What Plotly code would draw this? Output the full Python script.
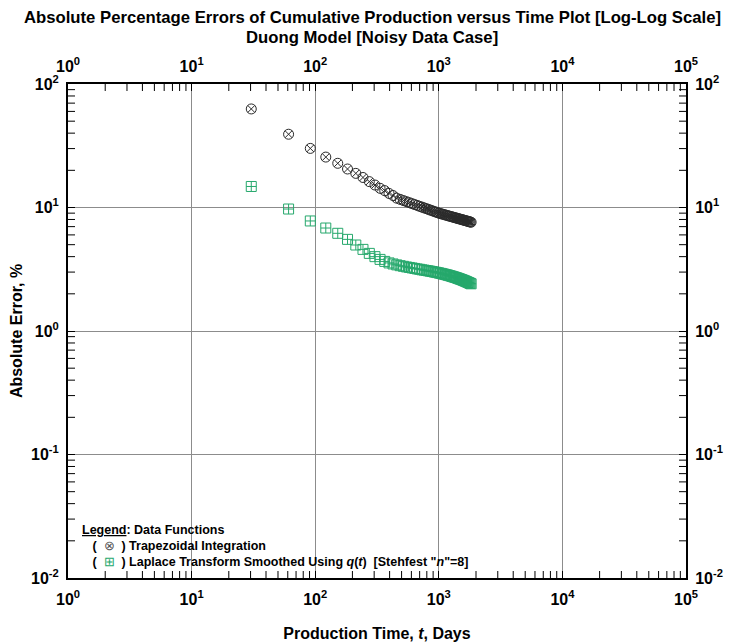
import plotly.graph_objects as go

months = list(range(1, 61))
time_days = [round(30.44 * m, 1) for m in months]

trapezoid_err = [62.8, 39.2, 30.1, 25.6, 22.8, 20.5, 18.9, 17.5, 16.2, 15.2,
                 14.3, 13.7, 13.0, 12.5, 11.9, 11.63, 11.38, 11.15, 10.94, 10.74,
                 10.56, 10.39, 10.22, 10.07, 9.93, 9.79, 9.66, 9.54, 9.42, 9.30,
                 9.19, 9.09, 8.99, 8.92, 8.85, 8.78, 8.71, 8.65, 8.58, 8.52,
                 8.46, 8.40, 8.35, 8.29, 8.24, 8.19, 8.14, 8.09, 8.05, 8.00,
                 7.96, 7.91, 7.87, 7.83, 7.79, 7.75, 7.71, 7.67, 7.63, 7.60]

laplace_err = [14.8, 9.72, 7.78, 6.82, 6.18, 5.52, 4.97, 4.58, 4.25, 4.00,
               3.80, 3.66, 3.56, 3.49, 3.43, 3.38, 3.34, 3.30, 3.27, 3.24,
               3.21, 3.18, 3.16, 3.13, 3.11, 3.09, 3.07, 3.05, 3.03, 3.01,
               2.99, 2.97, 2.95, 2.93, 2.91, 2.89, 2.87, 2.85, 2.83, 2.81,
               2.79, 2.77, 2.75, 2.73, 2.71, 2.69, 2.67, 2.65, 2.63, 2.61,
               2.59, 2.57, 2.55, 2.53, 2.51, 2.49, 2.47, 2.45, 2.43, 2.41]

x_tickvals = [1, 10, 100, 1000, 10000, 100000]
x_ticktext = ["10<sup>0</sup>", "10<sup>1</sup>", "10<sup>2</sup>",
              "10<sup>3</sup>", "10<sup>4</sup>", "10<sup>5</sup>"]
y_tickvals = [0.01, 0.1, 1, 10, 100]
y_ticktext = ["10<sup>-2</sup>", "10<sup>-1</sup>", "10<sup>0</sup>",
              "10<sup>1</sup>", "10<sup>2</sup>"]

x_minor = [m * 10 ** e for e in range(0, 5) for m in range(2, 10)]
y_minor = [m * 10.0 ** e for e in range(-2, 2) for m in range(2, 10)]

BLACK_C = "#2a2a2a"
GREEN_C = "rgb(38,168,108)"
FONT = "Liberation Sans Narrow, Arial Narrow, Liberation Sans, Arial"
LFONT = "Liberation Sans, Arial"

X_MIN, X_MAX = 1, 100000
Y_MIN, Y_MAX = 0.01, 100
# tick length of ~7 px expressed as a factor on each log axis (618 px / 5 decades, 494 px / 4 decades)
FX = 10 ** (7 / 123.6)
FY = 10 ** (7 / 123.5)

fig = go.Figure()

# minor tick marks (all four sides), drawn in the axes' own log scale
tx, ty = [], []
for v in x_minor:
    tx += [v, v, None, v, v, None]
    ty += [Y_MIN, Y_MIN * FY, None, Y_MAX / FY, Y_MAX, None]
for v in y_minor:
    tx += [X_MIN, X_MIN * FX, None, X_MAX / FX, X_MAX, None]
    ty += [v, v, None, v, v, None]
fig.add_trace(go.Scatter(x=tx, y=ty, mode="lines", line=dict(color="black", width=1),
                         showlegend=False, hoverinfo="skip", connectgaps=False))

fig.add_trace(go.Scatter(
    x=time_days, y=trapezoid_err, mode="markers",
    marker=dict(symbol="circle-x-open", size=10, color=BLACK_C, line=dict(width=1)),
    showlegend=False))
fig.add_trace(go.Scatter(
    x=time_days, y=laplace_err, mode="markers",
    marker=dict(symbol="square-cross-open", size=10, color=GREEN_C, line=dict(width=1)),
    showlegend=False))
fig.add_trace(go.Scatter(x=[1], y=[1], xaxis="x2", yaxis="y2", mode="markers",
                         marker=dict(opacity=0), showlegend=False, hoverinfo="skip"))

tickfont = dict(family=FONT, size=16, color="black", weight="bold")
common = dict(type="log", ticks="inside", ticklen=7, tickwidth=1, tickcolor="black",
              showline=True, linecolor="black", linewidth=2, tickfont=tickfont,
              zeroline=False, automargin=False)

fig.update_layout(
    width=735, height=642,
    margin=dict(l=68, r=49, t=84, b=64),
    plot_bgcolor="white", paper_bgcolor="white",
    xaxis=dict(**common, range=[0, 5], tickvals=x_tickvals, ticktext=x_ticktext,
               showgrid=True, gridcolor="#8c8c8c", gridwidth=1,
               ticklabelstandoff=6,
               title=dict(text="Production Time, <i>t</i>, Days", standoff=26,
                          font=dict(family=FONT, size=16, color="black", weight="bold"))),
    yaxis=dict(**common, range=[-2, 2], tickvals=y_tickvals, ticktext=y_ticktext,
               showgrid=True, gridcolor="#8c8c8c", gridwidth=1,
               ticklabelstandoff=4,
               title=dict(text="Absolute Error, %", standoff=4,
                          font=dict(family=FONT, size=16, color="black", weight="bold"))),
    xaxis2=dict(**common, range=[0, 5], tickvals=x_tickvals, ticktext=x_ticktext,
                overlaying="x", side="top", showgrid=False, ticklabelstandoff=4),
    yaxis2=dict(**common, range=[-2, 2], tickvals=y_tickvals, ticktext=y_ticktext,
                overlaying="y", side="right", showgrid=False, ticklabelstandoff=4),
)

title_lines = ["Absolute Percentage Errors of Cumulative Production versus Time Plot [Log-Log Scale]",
               "Duong Model [Noisy Data Case]"]
for txt, yp in zip(title_lines, [17, 38]):
    fig.add_annotation(text=txt, xref="paper", yref="paper",
                       x=(372 - 68) / 618, y=(578 - yp) / 494,
                       xanchor="center", yanchor="middle", showarrow=False,
                       font=dict(family=FONT, size=16.7, color="black", weight="bold"))

legend_lines = [
    "<span style='text-decoration:underline'>Legend</span>: Data Functions",
    "   (  <span style='color:#555555;font-weight:normal'>⊗</span>  ) Trapezoidal Integration",
    "   (  <span style='color:" + GREEN_C + ";font-weight:normal'>⊞</span>  ) Laplace Transform Smoothed Using <i>q</i>(<i>t</i>)  [Stehfest \"<i>n</i>\"=8]",
]
legend_y = [530, 546, 562]
for txt, yp in zip(legend_lines, legend_y):
    fig.add_annotation(text=txt, xref="paper", yref="paper",
                       x=(80 - 68) / 618, y=(578 - yp) / 494,
                       xanchor="left", yanchor="middle", showarrow=False,
                       font=dict(family=LFONT, size=12.5, color="black", weight="bold"))

fig.write_html("out.html")
